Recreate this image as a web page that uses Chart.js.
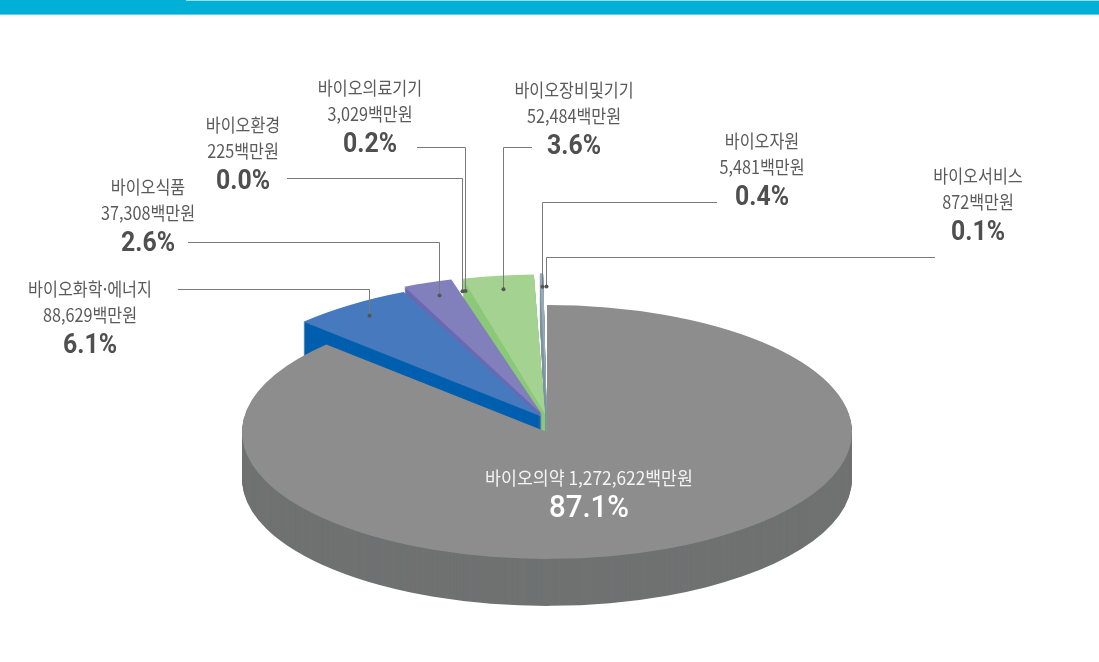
<!DOCTYPE html>
<html lang="ko">
<head>
<meta charset="utf-8">
<title>바이오산업 분야별 생산 규모</title>
<script src="https://cdn.jsdelivr.net/npm/chart.js@4.4.1/dist/chart.umd.min.js"></script>
<style>
    html, body { margin: 0; padding: 0; background: #fff; }
    .frame { position: relative; width: 1099px; height: 662px; overflow: hidden; }
    .topbar { position: absolute; left: 0; top: 0; width: 1099px; height: 14px; background: #00b0d6; border-bottom: 1px solid #66cde6; }
    .topbar::after { content: ''; position: absolute; left: 186px; right: 0; top: 0; height: 1px; background: #9fdcec; }
    #pieChart { position: absolute; left: 0; top: 0; }
</style>
</head>
<body>
<div class="frame">
    <div class="topbar"></div>
    <canvas id="pieChart" width="1099" height="662"></canvas>
</div>
<script>
const categories = ['바이오의약', '바이오화학·에너지', '바이오식품', '바이오환경', '바이오의료기기', '바이오장비및기기', '바이오자원', '바이오서비스'];
const amounts = [1272622, 88629, 37308, 225, 3029, 52484, 5481, 872];   // 백만원
const unitLabel = '백만원';

const topColors = ['#8e8d8e', '#4679bd', '#8180bd', '#3cb89c', '#1aae8a', '#a4d391', '#98abb6', '#5a9bd6'];
const sideColors = ['#6f7271', '#005fae', '#6a68b0', '#24a386', '#0c9c78', '#8cc87a', '#7f95a2', '#3f84c8'];
const explodeOffsets = [0, 40, 60, 60, 60, 60, 60, 60];

// label blocks: x = centre of text, y = first line; line = where the leader meets the text
const labelLayout = [
    { x: 589, y: 478 },
    { x: 90,  y: 289, line: { y: 289, x: 178 } },
    { x: 148, y: 187, line: { y: 242, x: 188 } },
    { x: 243, y: 125, line: { y: 178, x: 287 } },
    { x: 370, y: 88,  line: { y: 147, x: 417 } },
    { x: 574, y: 90,  line: { y: 147, x: 532 } },
    { x: 762, y: 141, line: { y: 202, x: 717 } },
    { x: 978, y: 176, line: { y: 257, x: 935 } }
];

const PIE_RADIUS = 305;
const PIE_TOP_Y = 432;     // screen y of the top face centre
const TILT = 0.416;        // vertical squash of the top face
const DEPTH = 47;          // wall height in px
const RIM_SCALE = 1.06;    // the small back slices stand a little proud
const BACK_LIFT = 12;      // ...and are pulled up off the big slice

const total = amounts.reduce((a, b) => a + b, 0);
const shareLabels = amounts.map(v => (v / total * 100).toFixed(1) + '%');
const amountLabels = amounts.map(v => v.toLocaleString('en-US') + unitLabel);

function squash(ctx, cx, cy) {
    ctx.translate(cx, PIE_TOP_Y);
    ctx.scale(1, TILT);
    ctx.translate(-cx, -cy);
}

// draw one arc element, optionally recoloured, dropped by `drop` screen px
function paintArc(ctx, arc, cx, cy, color, drop) {
    const saved = arc.options;
    if (color) {
        arc.options = Object.assign({}, saved, { backgroundColor: color, borderWidth: 0 });
    }
    ctx.save();
    ctx.translate(0, drop);
    squash(ctx, cx, cy);
    arc.draw(ctx);
    ctx.restore();
    arc.options = saved;
}

// where Chart.js moves an exploded arc (see ArcElement.draw)
function arcShift(arc) {
    const offset = (arc.options.offset || 0) / 4;
    const fix = 1 - Math.sin(Math.min(Math.PI, arc.circumference || 0));
    return offset + offset * fix;
}

function condensedText(ctx, text, x, y, font, color, squeeze) {
    ctx.save();
    ctx.font = font;
    ctx.fillStyle = color;
    ctx.textAlign = 'center';
    ctx.textBaseline = 'middle';
    ctx.translate(x, y);
    ctx.scale(squeeze, 1);
    ctx.fillText(text, 0, 0);
    ctx.restore();
}

function drawLabels(chart) {
    const ctx = chart.ctx;
    const arcs = chart.getDatasetMeta(0).data;
    const cy = arcs[0].y;
    const nameFont = '18px "Noto Sans CJK KR"';
    const pctFont = 'bold 27px Roboto';

    ctx.save();
    arcs.forEach((arc, i) => {
        const pos = labelLayout[i];
        if (i === 0) {
            condensedText(ctx, categories[i] + ' ' + amountLabels[i], pos.x, pos.y, nameFont, '#f4f4f4', 0.96);
            condensedText(ctx, shareLabels[i], pos.x, pos.y + 31, '500 31px Roboto', '#ffffff', 0.95);
            return;
        }
        condensedText(ctx, categories[i], pos.x, pos.y, nameFont, '#5a5a5a', 0.9);
        condensedText(ctx, amountLabels[i], pos.x, pos.y + 26, nameFont, '#5a5a5a', 0.9);
        condensedText(ctx, shareLabels[i], pos.x, pos.y + 57, pctFont, '#4f4f4f', 0.92);

        // leader from the text to a dot near the slice rim
        const mid = (arc.startAngle + arc.endAngle) / 2;
        const r = arc.outerRadius * 0.9 + arcShift(arc);
        const dx = arc.x + Math.cos(mid) * r;
        const dy = PIE_TOP_Y - BACK_LIFT + (arc.y + Math.sin(mid) * r - cy) * TILT;
        const px = Math.round(dx) + 0.5;

        ctx.strokeStyle = '#7a7a7a';
        ctx.lineWidth = 1;
        ctx.beginPath();
        ctx.moveTo(pos.line.x, pos.line.y + 0.5);
        ctx.lineTo(px, pos.line.y + 0.5);
        ctx.lineTo(px, dy);
        ctx.stroke();

        ctx.fillStyle = '#555';
        ctx.beginPath();
        ctx.arc(px, dy, 2, 0, Math.PI * 2);
        ctx.fill();
    });
    ctx.restore();
}

const pie3d = {
    id: 'pie3d',
    beforeDatasetsDraw(chart) {
        const ctx = chart.ctx;
        const meta = chart.getDatasetMeta(0);
        const arcs = meta.data;
        const base = meta.controller.outerRadius;
        arcs.forEach((arc, i) => { arc.outerRadius = i === 0 ? base : base * RIM_SCALE; });

        const cx = arcs[0].x;
        const cy = arcs[0].y;
        // back to front: the slivers at 12 o'clock first, the big slice last
        const order = arcs.map((a, i) => i).slice(1).reverse().concat([0]);
        order.forEach(i => {
            const arc = arcs[i];
            const lift = i === 0 ? 0 : BACK_LIFT;
            for (let d = DEPTH; d > 0; d--) {
                paintArc(ctx, arc, cx, cy, sideColors[i], d - lift);
            }
            paintArc(ctx, arc, cx, cy, null, -lift);
        });
        return false;
    },
    afterDraw(chart) {
        drawLabels(chart);
    }
};

const ctx = document.getElementById('pieChart').getContext('2d');
new Chart(ctx, {
    type: 'pie',
    data: {
        labels: categories,
        datasets: [{
            data: amounts,
            backgroundColor: topColors,
            borderWidth: 0,
            offset: explodeOffsets,
            radius: PIE_RADIUS,
            clip: false
        }]
    },
    options: {
        responsive: false,
        animation: false,
        events: [],
        layout: { padding: { right: 5 } },
        plugins: {
            legend: { display: false },
            tooltip: { enabled: false }
        }
    },
    plugins: [pie3d]
});
</script>
</body>
</html>
